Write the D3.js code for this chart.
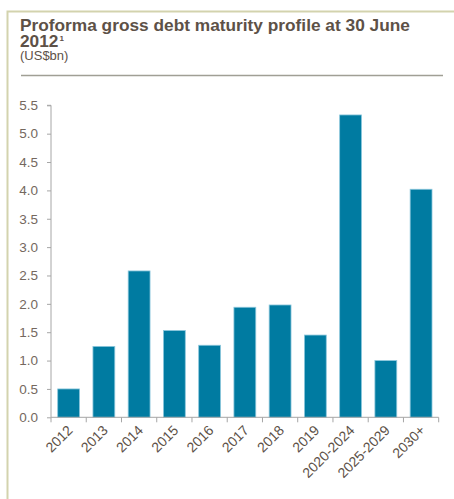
<!DOCTYPE html>
<html><head><meta charset="utf-8">
<script src="https://cdn.jsdelivr.net/npm/d3@7"></script>
<style>html,body{margin:0;padding:0;background:#fff;}svg{display:block;}</style>
</head><body>
<script>
const categories = ["2012","2013","2014","2015","2016","2017","2018","2019","2020-2024","2025-2029","2030+"];
const values = [0.5,1.25,2.58,1.53,1.27,1.94,1.98,1.45,5.33,1.0,4.02];
const yTicks = [0,0.5,1,1.5,2,2.5,3,3.5,4,4.5,5,5.5];
const titleLine1 = "Proforma gross debt maturity profile at 30 June";
const titleLine2 = "2012";
const titleSup = "1";
const subtitle = "(US$bn)";

(function(){
const W = 454, H = 499;
const svg = d3.select("body").append("svg").attr("width", W).attr("height", H);

svg.append("path").attr("d", `M7.5,${H} L7.5,11.5 L${W},11.5`).attr("fill","none").attr("stroke","#d3d3ae").attr("stroke-width",2);

const font = "Liberation Sans, Arial, sans-serif";
const titleColor = "#5d5147";
svg.append("text").attr("x",20).attr("y",31).attr("font-family",font).attr("font-weight","bold")
  .attr("font-size",17.3).attr("fill",titleColor).text(titleLine1);
const t2 = svg.append("text").attr("x",20).attr("y",46.5).attr("font-family",font).attr("font-weight","bold")
  .attr("font-size",17.3).attr("fill",titleColor).text(titleLine2);
t2.append("tspan").attr("font-size",8).attr("dy",-5.5).attr("dx",1).text(titleSup);
svg.append("text").attr("x",20).attr("y",60).attr("font-family",font)
  .attr("font-size",13).attr("fill",titleColor).text(subtitle);
svg.append("line").attr("x1",21).attr("x2",443).attr("y1",75.5).attr("y2",75.5).attr("stroke","#a09f95").attr("stroke-width",1.5);

const pl = 51, pr = 438.7, pt = 105.3, pb = 417.3;
const x = d3.scaleBand().domain(categories).range([pl,pr]).paddingInner(0.38).paddingOuter(0.19);
const xb = d3.scaleBand().domain(categories).range([pl,pr]);
const y = d3.scaleLinear().domain([0,5.5]).range([pb,pt]);

const axisColor = "#a6a6a6";
svg.append("g").selectAll("rect").data(values).join("rect")
  .attr("x",(d,i)=>x(categories[i]))
  .attr("y",d=>y(d))
  .attr("width",x.bandwidth())
  .attr("height",d=>pb-y(d))
  .attr("fill","#007ba1").attr("stroke","#8cc7dc").attr("stroke-width",0.8);

const yAxis = svg.append("g").attr("transform",`translate(${pl},0)`)
  .call(d3.axisLeft(y).tickValues(yTicks).tickFormat(d3.format(".1f")).tickSize(4).tickPadding(9));
yAxis.select(".domain").attr("stroke",axisColor).attr("d",`M-4,${pt}H0V${pb}`);
yAxis.selectAll(".tick line").attr("stroke",axisColor);
yAxis.selectAll("text").attr("font-family",font).attr("font-size",13.5).attr("fill","#74685e");

const xg = svg.append("g").attr("transform",`translate(0,${pb})`);
xg.append("line").attr("x1",pl).attr("x2",pr).attr("stroke",axisColor);
const bounds = categories.map(c=>xb(c)).concat([pr]);
xg.selectAll("line.tk").data(bounds).join("line").attr("class","tk")
  .attr("x1",d=>d).attr("x2",d=>d).attr("y1",0).attr("y2",5).attr("stroke",axisColor);
xg.selectAll("text").data(categories).join("text")
  .attr("transform",c=>`translate(${xb(c)+xb.bandwidth()/2+5},${14}) rotate(-45)`)
  .attr("text-anchor","end").attr("font-family",font).attr("font-size",14).attr("fill","#5d5147")
  .text(c=>c);
})();
</script>
</body></html>
